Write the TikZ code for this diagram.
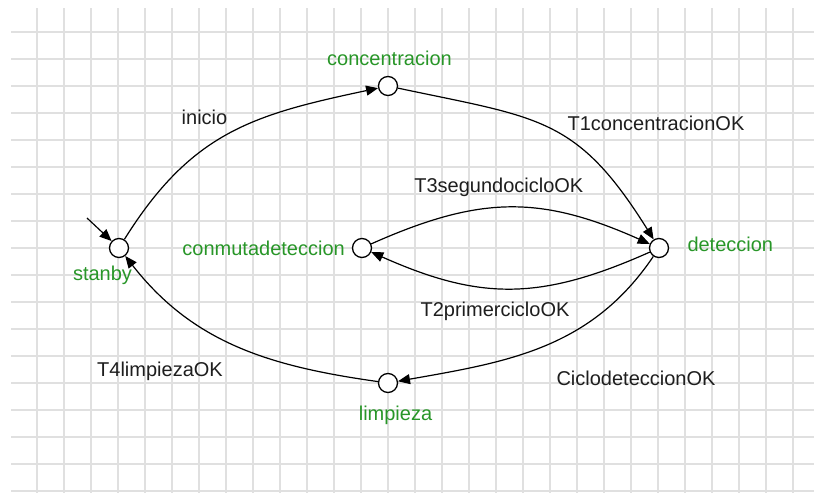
\documentclass[tikz,border=0pt]{standalone}
\usepackage{fontspec}
\setmainfont{Liberation Sans}
\usetikzlibrary{arrows.meta}
\definecolor{stgreen}{RGB}{40,150,40}
\definecolor{gridgray}{RGB}{224,224,224}
\definecolor{labelgray}{RGB}{30,30,30}
\tikzset{
  stnode/.style={circle, draw=black, line width=1.3pt, fill=white, minimum size=19pt, inner sep=0pt},
  stname/.style={text=stgreen, anchor=base, inner sep=0pt, font=\fontsize{20}{24}\selectfont},
  trname/.style={text=labelgray, anchor=base, inner sep=0pt, font=\fontsize{20}{24}\selectfont},
  arr/.style={-{Triangle[length=12pt,width=10pt]}, line width=1.2pt, draw=black},
}
\begin{document}
\begin{tikzpicture}[x=1pt,y=1pt]
  \useasboundingbox (0,0) rectangle (814,493);
  \fill[white] (0,0) rectangle (814,493);
  % background grid
  \foreach \k in {0,...,28} {
    \draw[gridgray, line width=1.8pt] ({37+27*\k},0) -- ({37+27*\k},485);
  }
  \foreach \k in {0,...,17} {
    \draw[gridgray, line width=1.8pt] (11,{460.7-27*\k}) -- (814,{460.7-27*\k});
  }

  % states
  \node[stnode] (s0) at (119,245) {};
  \node[stnode] (s1) at (388,407) {};
  \node[stnode] (s2) at (659,245) {};
  \node[stnode] (s3) at (388,110) {};
  \node[stnode] (s4) at (362,245) {};
  \coordinate (ini) at (87,275);

  % state names
  \node[stname] (n0) at (102.5,212) {stanby};
  \node[stname] (n1) at (389.5,427) {concentracion};
  \node[stname] (n2) at (730.3,241.3) {deteccion};
  \node[stname] (n3) at (395.5,73) {limpieza};
  \node[stname, anchor=base east] (n4) at (345,237) {conmutadeteccion};

  % transitions
  \draw[arr] (ini) -- (s0);
  \draw[arr] (s0) to[out=58,in=192,looseness=1.1] (s1);
  \draw[arr] (s1) to[out=-12,in=122,looseness=1.25] (s2);
  \draw[arr] (s4) to[out=24,in=156,looseness=1.1] (s2);
  \draw[arr] (s2) to[out=204,in=-24,looseness=1.1] (s4);
  \draw[arr] (s2) to[out=236,in=10] (s3);
  \draw[arr] (s3) to[out=172,in=308] (s0);

  % transition names
  \node[trname] (t0) at (204.5,368) {inicio};
  \node[trname] (t1) at (656,362) {T1concentracionOK};
  \node[trname] (t3) at (498.8,300.3) {T3segundocicloOK};
  \node[trname] (t2) at (495,176) {T2primercicloOK};
  \node[trname] (t4) at (160,117) {T4limpiezaOK};
  \node[trname] (t5) at (636,107) {CiclodeteccionOK};
\end{tikzpicture}
\end{document}
